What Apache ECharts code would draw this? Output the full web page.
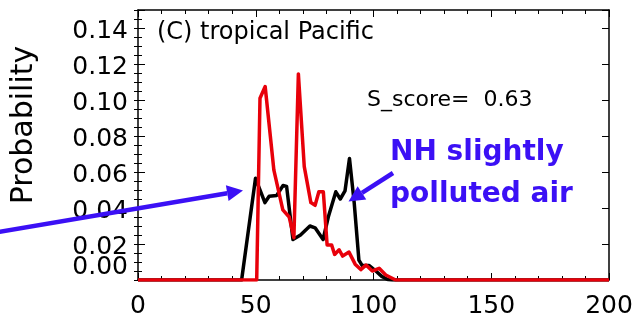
<!DOCTYPE html>
<html>
<head>
<meta charset="utf-8">
<script src="https://cdn.jsdelivr.net/npm/echarts@6/dist/echarts.min.js"></script>
<style>
  html, body { margin: 0; padding: 0; background: #fff; }
  #chart { width: 636px; height: 323px; }
</style>
</head>
<body>
<div id="chart"></div>
<script>
// ---- data ----
const blackX = [0, 44, 49.9, 53.9, 55.7, 58.9, 61.6, 63.1, 65.8, 69, 73, 75.2, 78.6, 80.8, 84, 85.9, 87.9, 89.8, 91.8, 93.8, 95.2, 98.2, 101, 103.5, 106, 108, 200];
const blackY = [0, 0, 0.0565, 0.043, 0.0465, 0.047, 0.0525, 0.052, 0.0225, 0.025, 0.030, 0.029, 0.0225, 0.035, 0.049, 0.045, 0.0495, 0.0675, 0.043, 0.011, 0.008, 0.008, 0.005, 0.002, 0.0003, 0, 0];
const redX = [0, 50.4, 51.8, 54, 57.7, 61.5, 64.2, 66.2, 68.1, 70.6, 73.4, 75.2, 76.8, 78.7, 80.3, 82.2, 83.5, 85.4, 86.9, 89.6, 92.2, 94.6, 96.8, 99.5, 102.4, 105.2, 109.4, 200];
const redY = [0, 0, 0.101, 0.1075, 0.061, 0.039, 0.035, 0.0235, 0.1145, 0.063, 0.043, 0.0415, 0.049, 0.049, 0.0195, 0.0195, 0.0142, 0.0168, 0.0133, 0.0155, 0.0088, 0.0058, 0.0083, 0.005, 0.0065, 0.0028, 0, 0];
const xTickLabels = ['0', '50', '100', '150', '200'];
const yTickLabels = ['0.00', '0.02', '0.04', '0.06', '0.08', '0.10', '0.12', '0.14'];
const panelTitle = '(C) tropical Pacific';
const scoreText = 'S_score=  0.63';
const noteLines = ['NH slightly', 'polluted air'];
const yName = 'Probability';

// ---- chart ----
const FONT = 'DejaVu Sans';
const BLUE = '#3b10f5';
const RED = '#e8000a';
const chart = echarts.init(document.getElementById('chart'), null, { renderer: 'canvas' });

function pairs(xs, ys) { return xs.map((x, i) => [x, ys[i]]); }
const yLabelVals = yTickLabels.map(Number);

function arrow(x1, y1, x2, y2) {
  const ang = Math.atan2(y2 - y1, x2 - x1);
  const L = 16, W = 8;
  const bx = x2 - L * Math.cos(ang), by = y2 - L * Math.sin(ang);
  const px = -Math.sin(ang) * W, py = Math.cos(ang) * W;
  return [
    { type: 'line', shape: { x1: x1, y1: y1, x2: bx, y2: by }, style: { stroke: BLUE, lineWidth: 4.5 }, z: 100 },
    { type: 'polygon', shape: { points: [[x2, y2], [bx + px, by + py], [bx - px, by - py]] }, style: { fill: BLUE }, z: 100 }
  ];
}

const axisCommon = {
  type: 'value',
  axisLine: { show: true, onZero: false, lineStyle: { color: '#000', width: 1.5 } },
  splitLine: { show: false },
};

const option = {
  animation: false,
  backgroundColor: '#fff',
  grid: { left: 138, right: 27, top: 10, bottom: 43, containLabel: false },
  xAxis: [
    Object.assign({}, axisCommon, {
      position: 'bottom', min: 0, max: 200, interval: 50,
      axisTick: { show: true, inside: true, length: 7, lineStyle: { color: '#000', width: 1 } },
      minorTick: { show: true, splitNumber: 5, length: 4, lineStyle: { color: '#000', width: 1 } },
      axisLabel: {
        show: true, margin: 14, color: '#000', fontFamily: FONT, fontSize: 25,
        showMinLabel: true, showMaxLabel: true, hideOverlap: false,
        formatter: v => { const s = String(Math.round(v)); return xTickLabels.includes(s) ? s : ''; }
      }
    }),
    Object.assign({}, axisCommon, {
      position: 'top', min: 0, max: 200, interval: 50,
      axisTick: { show: true, inside: true, length: 7, lineStyle: { color: '#000', width: 1 } },
      minorTick: { show: true, splitNumber: 5, length: 4, lineStyle: { color: '#000', width: 1 } },
      axisLabel: { show: false }
    })
  ],
  yAxis: [
    Object.assign({}, axisCommon, {
      position: 'left', min: 0, max: 0.15, interval: 0.02,
      axisTick: { show: true, inside: true, length: 7, lineStyle: { color: '#000', width: 1 } },
      axisLabel: {
        show: true, margin: 10, color: '#000', fontFamily: FONT, fontSize: 25,
        hideOverlap: false,
        customValues: yLabelVals.filter(v => v > 0),
        formatter: v => '{a|' + v.toFixed(2) + '}',
        rich: { a: { fontFamily: FONT, fontSize: 25, color: '#000', padding: [7, 0, 0, 0] } }
      }
    }),
    Object.assign({}, axisCommon, {
      position: 'left', min: 0, max: 0.15, interval: 0.005,
      axisLine: { show: false },
      axisTick: { show: true, inside: true, length: 4, lineStyle: { color: '#000', width: 1 } },
      axisLabel: {
        show: true, margin: 10, color: '#000', fontFamily: FONT, fontSize: 25,
        customValues: yLabelVals.filter(v => v === 0), hideOverlap: false,
        formatter: v => '{z|' + v.toFixed(2) + '}',
        rich: { z: { fontFamily: FONT, fontSize: 25, color: '#000', padding: [0, 0, 26, 0] } }
      }
    }),
    Object.assign({}, axisCommon, {
      position: 'right', min: 0, max: 0.15, interval: 0.02,
      axisTick: { show: true, inside: true, length: 7, lineStyle: { color: '#000', width: 1 } },
      axisLabel: { show: false }
    }),
    Object.assign({}, axisCommon, {
      position: 'right', min: 0, max: 0.15, interval: 0.005,
      axisLine: { show: false },
      axisTick: { show: true, inside: true, length: 4, lineStyle: { color: '#000', width: 1 } },
      axisLabel: { show: false }
    })
  ],
  series: [
    {
      type: 'line', xAxisIndex: 0, yAxisIndex: 0, data: pairs(blackX, blackY),
      showSymbol: false, symbol: 'none', lineStyle: { color: '#000', width: 3.5, join: 'round' }, z: 2
    },
    {
      type: 'line', xAxisIndex: 0, yAxisIndex: 0, data: pairs(redX, redY),
      showSymbol: false, symbol: 'none', lineStyle: { color: RED, width: 3.5, join: 'round' }, z: 3
    }
  ],
  graphic: [
    { type: 'text', x: 157, y: 33, style: { text: panelTitle, font: '24px "DejaVu Sans"', fill: '#000', verticalAlign: 'middle', align: 'left' } },
    { type: 'text', x: 367, y: 100, style: { text: scoreText, font: '22px "DejaVu Sans"', fill: '#000', verticalAlign: 'middle', align: 'left' } },
    { type: 'text', x: 390, y: 153, style: { text: noteLines[0], font: 'bold 28px "DejaVu Sans"', fill: BLUE, verticalAlign: 'middle', align: 'left' } },
    { type: 'text', x: 390, y: 195, style: { text: noteLines[1], font: 'bold 28px "DejaVu Sans"', fill: BLUE, verticalAlign: 'middle', align: 'left' } },
    { type: 'text', x: 24, y: 125, rotation: Math.PI / 2, style: { text: yName, font: '30px "DejaVu Sans"', fill: '#000', verticalAlign: 'middle', align: 'center' } }
  ].concat(arrow(-2, 232, 243, 190.5)).concat(arrow(393, 173, 348.5, 201.5))
};
chart.setOption(option);
</script>
</body>
</html>
